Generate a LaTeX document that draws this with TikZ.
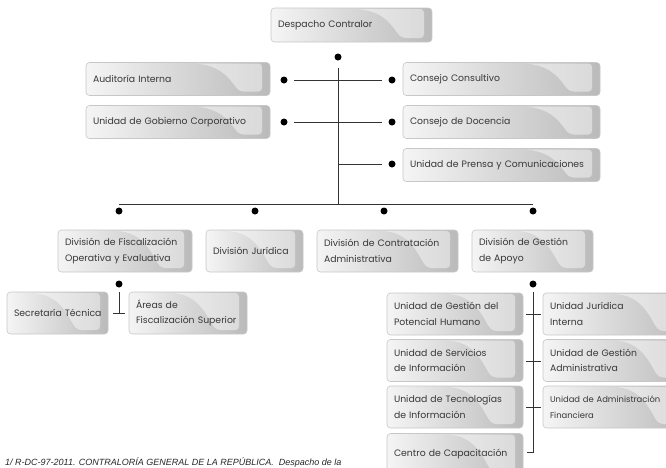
\documentclass[tikz,border=0pt]{standalone}
\usepackage{fontspec}
\setmainfont{Poppins}
\newfontfamily\notefont{Liberation Sans}
\begin{document}
\begin{tikzpicture}[x=1pt,y=-1pt]
\tikzset{
  box/.style 2 args={draw=black!22, line width=0.6pt, rounded corners=3.5pt,
    left color=black!4, right color=black!27, text=black!78,
    font=\fontsize{9.3}{15.5}\selectfont, inner xsep=0pt, inner ysep=0pt,
    text width=#1, minimum height=#2,
    execute at begin node={\parindent=0pt\leftskip=7pt\rightskip=0pt plus 1fil\parfillskip=0pt plus 1fil\hyphenpenalty=10000\relax},
    path picture={\fill[white,opacity=0.45]
      ([xshift=-75pt,yshift=-1pt]path picture bounding box.north east)
      .. controls ([xshift=-45pt,yshift=-4pt]path picture bounding box.north east)
      and ([xshift=-38pt,yshift=12pt]path picture bounding box.south east)
      .. ([xshift=-30pt,yshift=4pt]path picture bounding box.south east)
      -- ([xshift=-8pt,yshift=4pt]path picture bounding box.south east)
      -- ([xshift=-8pt,yshift=-1pt]path picture bounding box.north east) -- cycle;}},
  dot/.style={circle, fill=black, inner sep=0pt, minimum size=7pt},
  conn/.style={draw=black!80, line width=0.8pt},
}
\useasboundingbox (0,0) rectangle (666,467);
\clip (0,0) rectangle (666,467);
% boxes
\node[box={161pt}{34pt}] (desp) at (351.5,25) {Despacho Contralor};
\node[box={184pt}{33pt}] (aud) at (178,79) {Auditoría Interna};
\node[box={184pt}{33pt}] (gob) at (178,122) {Unidad de Gobierno Corporativo};
\node[box={197pt}{33pt}] (cc) at (501.5,79) {Consejo Consultivo};
\node[box={197pt}{33pt}] (cd) at (501.5,122) {Consejo de Docencia};
\node[box={197pt}{33pt}] (pren) at (501.5,165) {Unidad de Prensa y Comunicaciones};
\node[box={134pt}{42pt}] (fisc) at (125,251) {División de Fiscalización\\Operativa y Evaluativa};
\node[box={97pt}{42pt}] (jur) at (254.5,251) {División Jurídica};
\node[box={141pt}{42pt}] (contr) at (387.5,251) {División de Contratación\\Administrativa};
\node[box={121pt}{42pt}] (apoyo) at (532.5,251) {División de Gestión\\de Apoyo};
\node[box={101pt}{42pt}] (secr) at (57.5,313) {Secretaría Técnica};
\node[box={118pt}{42pt}] (areas) at (188,313) {Áreas de\\Fiscalización Superior};
\node[box={136pt}{42pt}] (ugph) at (455,314) {Unidad de Gestión del\\Potencial Humano};
\node[box={136pt}{42pt}] (usi) at (455,360.5) {Unidad de Servicios\\de Información};
\node[box={136pt}{42pt}] (uti) at (455,407) {Unidad de Tecnologías\\de Información};
\node[box={136pt}{42pt}] (cdc) at (455,454.5) {Centro de Capacitación};
\node[box={147pt}{42pt}] (uji) at (616.5,314) {Unidad Jurídica\\Interna};
\node[box={147pt}{42pt}] (uga) at (616.5,360.5) {Unidad de Gestión\\Administrativa};
\node[box={147pt}{42pt}, font=\fontsize{8.4}{15.5}\selectfont] (uaf) at (616.5,407) {Unidad de Administración\\Financiera};
% dots
\node[dot] (d0) at (338,57) {};
\node[dot] (dal) at (284,80) {};
\node[dot] (dar) at (392,80) {};
\node[dot] (dgl) at (284,122) {};
\node[dot] (dgr) at (392,122) {};
\node[dot] (dpr) at (392,164) {};
\node[dot] (dv1) at (119,211) {};
\node[dot] (dv2) at (255,211) {};
\node[dot] (dv3) at (384,211) {};
\node[dot] (dv4) at (533,211) {};
\node[dot] (ds1) at (119,284) {};
\node[dot] (ds2) at (533,284) {};
% coordinates
\coordinate (t1) at (338,204);
\coordinate (tp) at (338,164);
\coordinate (bl) at (119,204);
\coordinate (br) at (533,204);
\coordinate (sl) at (119,313);
\coordinate (sla) at (113,313);
\coordinate (slb) at (125,313);
\coordinate (sr) at (533,452);
\coordinate (srb) at (527,452);
\coordinate (k1a) at (526,314);
\coordinate (k1b) at (541,314);
\coordinate (k2a) at (526,361);
\coordinate (k2b) at (541,361);
\coordinate (k3a) at (526,407);
\coordinate (k3b) at (541,407);
% connectors
\draw[conn, shorten <=7pt] (d0) -- (t1);
\draw[conn, shorten <=6.5pt, shorten >=6.5pt] (dal) -- (dar);
\draw[conn, shorten <=6.5pt, shorten >=6.5pt] (dgl) -- (dgr);
\draw[conn, shorten >=6.5pt] (tp) -- (dpr);
\draw[conn] (bl) -- (br);
\draw[conn, shorten <=4.5pt] (ds1) -- (sl);
\draw[conn] (sla) -- (slb);
\draw[conn, shorten <=4.5pt] (ds2) -- (sr) -- (srb);
\draw[conn] (k1a) -- (k1b);
\draw[conn] (k2a) -- (k2b);
\draw[conn] (k3a) -- (k3b);
% footnote
\node[anchor=base west, font=\notefont\itshape\fontsize{9}{11}\selectfont, text=black!85, inner sep=0pt] (note) at (5,465) {1/ R-DC-97-2011. CONTRALORÍA GENERAL DE LA REPÚBLICA.\ \ Despacho de la};
\end{tikzpicture}
\end{document}
